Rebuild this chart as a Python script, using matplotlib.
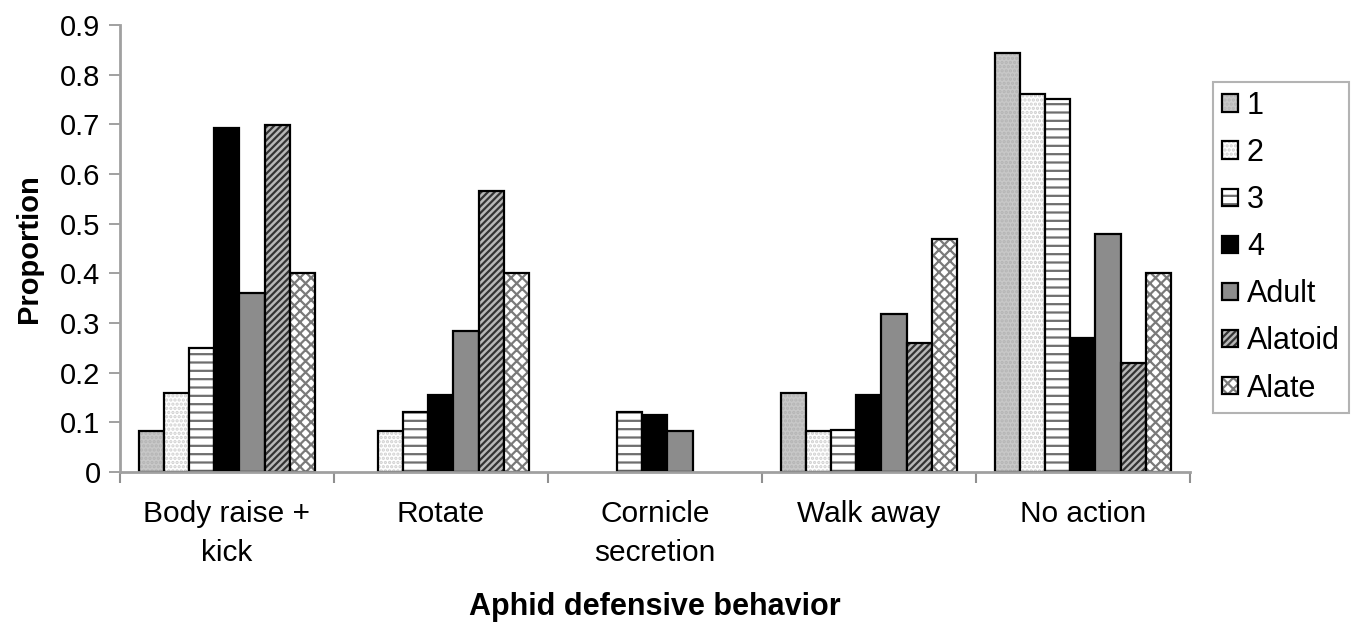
import matplotlib
matplotlib.use('Agg')
import matplotlib.pyplot as plt
import numpy as np

plt.rcParams['font.family'] = ['Liberation Sans', 'DejaVu Sans']

categories = ['Body raise +\nkick', 'Rotate', 'Cornicle\nsecretion', 'Walk away', 'No action']
series = ['1', '2', '3', '4', 'Adult', 'Alatoid', 'Alate']
values = {
    '1':       [0.083, 0.0,   0.0,   0.16,  0.843],
    '2':       [0.16,  0.083, 0.0,   0.083, 0.76],
    '3':       [0.25,  0.12,  0.12,  0.085, 0.75],
    '4':       [0.692, 0.155, 0.114, 0.155, 0.27],
    'Adult':   [0.36,  0.284, 0.083, 0.318, 0.48],
    'Alatoid': [0.698, 0.565, 0.0,   0.26,  0.22],
    'Alate':   [0.40,  0.40,  0.0,   0.47,  0.40],
}
yticks = [0, 0.1, 0.2, 0.3, 0.4, 0.5, 0.6, 0.7, 0.8, 0.9]
ytick_labels = ['0', '0.1', '0.2', '0.3', '0.4', '0.5', '0.6', '0.7', '0.8', '0.9']

# face colour, hatch, hatch colour
styles = {
    '1':       ('#c8c8c8', '....', '#b4b4b4'),
    '2':       ('#ffffff', '....', '#cfcfcf'),
    '3':       ('#ffffff', '--',   '#6e6e6e'),
    '4':       ('#000000', None,   '#000000'),
    'Adult':   ('#8c8c8c', None,   '#8c8c8c'),
    'Alatoid': ('#b8b8b8', '/////', '#333333'),
    'Alate':   ('#ffffff', 'xxx',  '#7a7a7a'),
}

plt.rcParams['hatch.linewidth'] = 1.6

fig = plt.figure(figsize=(13.57, 6.24), dpi=100)
ax = fig.add_axes([0.0884, 0.2436, 0.7885, 0.7164])

x = np.arange(len(categories))
w = 0.117
handles = []
for i, s in enumerate(series):
    face, hatch, hcol = styles[s]
    pos = x + (i - 3) * w
    fill = ax.bar(pos, values[s], w, color=face, hatch=hatch, edgecolor=hcol, linewidth=0)
    outline = ax.bar(pos, values[s], w, fill=False, edgecolor='black', linewidth=1.6)
    for v, r in zip(values[s], outline):
        if v == 0:
            r.set_visible(False)
    handles.append((fill[0], outline[0]))

ax.set_xlim(-0.5, 4.5)
ax.set_ylim(0, 0.9)
ax.set_yticks(yticks)
ax.set_yticklabels(ytick_labels, fontsize=21)
ax.set_xticks(x)
ax.set_xticklabels(categories, fontsize=21.5, linespacing=1.5)
ax.set_xticks(np.arange(-0.5, 5, 1), minor=True)
ax.tick_params(axis='x', which='major', length=0, pad=20)
ax.tick_params(axis='x', which='minor', length=8, width=1.5, color='#909090', direction='out')
ax.tick_params(axis='y', length=8, width=1.2, color='#909090', pad=6)

for side in ['top', 'right']:
    ax.spines[side].set_visible(False)
for side in ['left', 'bottom']:
    ax.spines[side].set_color('#a0a0a0')
    ax.spines[side].set_linewidth(2)

ax.set_xlabel('Aphid defensive behavior', fontsize=22, fontweight='bold', labelpad=18)
ax.set_ylabel('Proportion', fontsize=21, fontweight='bold', labelpad=12)

leg = fig.legend(handles, series, loc='upper left', bbox_to_anchor=(0.894, 0.869),
                 borderaxespad=0, fontsize=22, frameon=True, fancybox=False,
                 edgecolor='#a0a0a0', handlelength=0.5, handleheight=0.5,
                 handletextpad=0.3, labelspacing=0.56, borderpad=0.3)
leg.get_frame().set_linewidth(1.5)

fig.savefig('out.png', dpi=100)
